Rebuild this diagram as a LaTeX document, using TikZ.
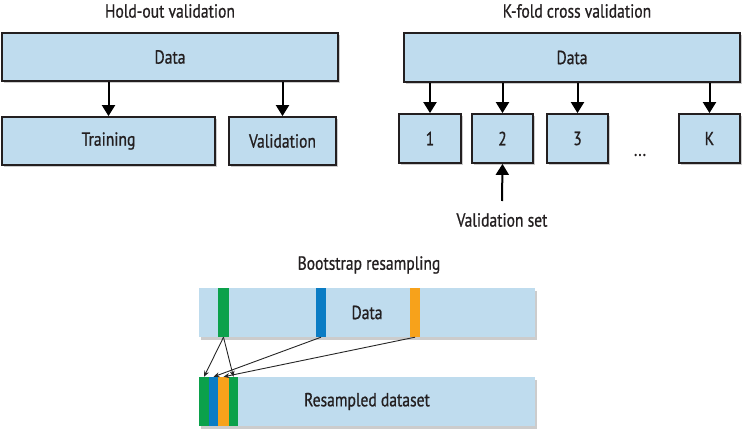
\documentclass[tikz,border=0pt]{standalone}
\usepackage{fontspec}
\setmainfont[FakeStretch=0.82,FakeBold=0.8]{PT Sans}
\usetikzlibrary{arrows.meta,shadows}
\definecolor{boxblue}{HTML}{BFDCEE}
\definecolor{sgreen}{HTML}{0BA14B}
\definecolor{sblue}{HTML}{0A7CC4}
\definecolor{sorange}{HTML}{F7A21B}
\definecolor{txt}{HTML}{231F20}
\begin{document}
\begin{tikzpicture}[x=1pt,y=-1pt,
  every node/.style={font=\fontsize{19}{22}\selectfont, text=txt, inner sep=0pt},
  framebox/.style={draw=txt, line width=1.8pt, fill=boxblue, minimum height=48pt,
    drop shadow={shadow xshift=2pt, shadow yshift=-2.5pt, fill=black!40, opacity=0.5}},
  flatbox/.style={fill=boxblue, minimum height=49pt,
    drop shadow={shadow xshift=2pt, shadow yshift=-2.5pt, fill=black!40, opacity=0.5}},
  stripe/.style={minimum height=49pt},
  bigarrow/.style={line width=2pt, draw=black, -{Triangle[width=13pt,length=11pt]}},
  thinarrow/.style={line width=0.9pt, draw=black!85, -{Stealth[width=5pt,length=6pt]}},
  title/.style={}
]
\useasboundingbox (0,0) rectangle (747,433);

% Hold-out validation
\node[title] (htitle) at (170,11) {Hold-out validation};
\node[framebox, minimum width=336pt] (hdata) at (170,57) {Data};
\node[framebox, minimum width=213pt] (htrain) at (108.5,141) {Training};
\node[framebox, minimum width=107pt] (hval) at (282.5,141) {Validation};
\draw[bigarrow] (hdata.south -| htrain.north) -- (htrain.north);
\draw[bigarrow] (hdata.south -| hval.north) -- (hval.north);

% K-fold cross validation
\node[title] (ktitle) at (577,11) {K-fold cross validation};
\node[framebox, minimum width=336pt, minimum height=49pt] (kdata) at (572,57.5) {Data};
\node[framebox, minimum width=62pt, minimum height=49pt] (k1) at (430,138.5) {1};
\node[framebox, minimum width=61pt, minimum height=49pt] (k2) at (502.5,138.5) {2};
\node[framebox, minimum width=61pt, minimum height=49pt] (k3) at (577.5,138.5) {3};
\node[framebox, minimum width=61pt, minimum height=49pt] (kK) at (709.5,138.5) {K};
\node (kdots) at (640,155) {...};
\foreach \n in {k1,k2,k3,kK}{
  \draw[bigarrow] (kdata.south -| \n.north) -- (\n.north);
}
\node (vset) at (502,220) {Validation set};
\coordinate (vsetarrow) at (502,201);
\draw[bigarrow] (vsetarrow) -- (k2.south);

% Bootstrap resampling
\node[title] (btitle) at (369,265) {Bootstrap resampling};
\node[flatbox, minimum width=336pt] (bdata) at (367,312.5) {Data};
\node[stripe, fill=sgreen, minimum width=11pt] (g1) at (223.5,312.5) {};
\node[stripe, fill=sblue, minimum width=10pt] (b1) at (321,312.5) {};
\node[stripe, fill=sorange, minimum width=10pt] (o1) at (415,312.5) {};

\node[flatbox, minimum width=336pt] (bres) at (367,401.5) {Resampled dataset};
\node[stripe, fill=sgreen, minimum width=10pt] (rg1) at (204,401.5) {};
\node[stripe, fill=sblue, minimum width=9pt] (rb) at (213.5,401.5) {};
\node[stripe, fill=sorange, minimum width=11pt] (ro) at (223.5,401.5) {};
\node[stripe, fill=sgreen, minimum width=9pt] (rg2) at (233.5,401.5) {};

\draw[thinarrow] (g1.south) -- (rg1.north);
\draw[thinarrow] (g1.south) -- (rg2.north);
\draw[thinarrow] (b1.south) -- (rb.north);
\draw[thinarrow] (o1.south) -- (ro.north);
\end{tikzpicture}
\end{document}
